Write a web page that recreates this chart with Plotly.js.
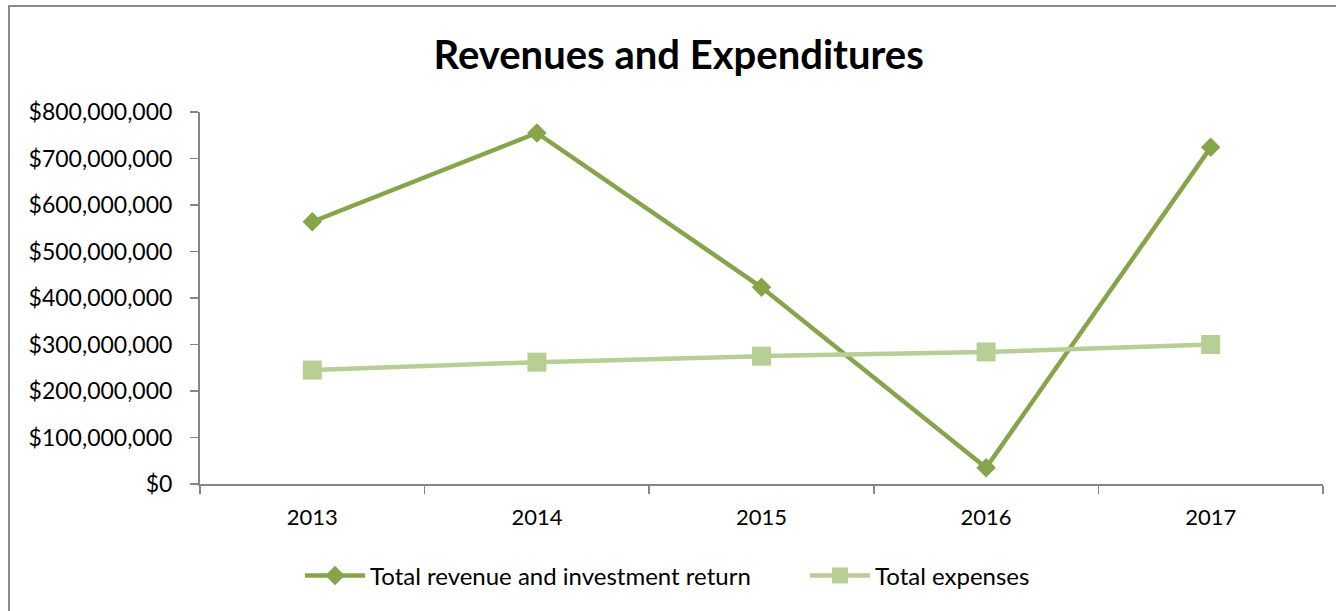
<!DOCTYPE html>
<html>
<head>
<meta charset="utf-8">
<script src="https://cdn.plot.ly/plotly-3.0.1.min.js"></script>
<style>html,body{margin:0;padding:0;background:#fff;}#chart{width:1336px;height:611px;}</style>
</head>
<body>
<div id="chart"></div>
<script>
const years = ["2013", "2014", "2015", "2016", "2017"];
const revenue = [564000000, 755000000, 423000000, 35000000, 724000000];
const expenses = [245000000, 262000000, 275000000, 284000000, 300000000];
const yTicks = [0, 100000000, 200000000, 300000000, 400000000, 500000000, 600000000, 700000000, 800000000];
const yTickText = yTicks.map(v => "$" + v.toLocaleString("en-US"));

const W = 1336, H = 611;
const m = {l: 200, r: 13, t: 112, b: 127};
const pw = W - m.l - m.r, ph = H - m.t - m.b;
const px = v => (v - m.l) / pw;
const py = v => (H - m.b - v) / ph;

const font = "Lato, 'Open Sans', sans-serif";

const traces = [
  {
    x: years, y: revenue, name: "Total revenue and investment return",
    type: "scatter", mode: "lines+markers",
    line: {color: "#86A44A", width: 4.5},
    marker: {symbol: "diamond", size: 15, color: "#86A44A"}
  },
  {
    x: years, y: expenses, name: "Total expenses",
    type: "scatter", mode: "lines+markers",
    line: {color: "#B7CE95", width: 4.5},
    marker: {symbol: "square", size: 19, color: "#B7CE95"}
  }
];

const layout = {
  width: W, height: H,
  margin: m,
  paper_bgcolor: "#fff", plot_bgcolor: "#fff",
  font: {family: font, color: "#000", size: 22},
  title: {text: "<b>Revenues and Expenditures</b>", x: 0.508, xanchor: "center", y: 0.91, yanchor: "middle",
          font: {family: font, size: 40, color: "#000"}},
  showlegend: true,
  legend: {orientation: "h", x: px(300), xanchor: "left", y: py(576), yanchor: "middle",
           bgcolor: "rgba(0,0,0,0)",
           font: {family: font, size: 24, color: "#000"}, itemwidth: 60, traceorder: "normal",
           entrywidth: 430},
  xaxis: {
    type: "category", range: [-0.5, 4.5], tickson: "boundaries",
    showline: true, linecolor: "#868686", linewidth: 2,
    ticks: "outside", ticklen: 8, tickcolor: "#868686", tickwidth: 1.5,
    showgrid: false, zeroline: false, ticklabelstandoff: 13,
    tickfont: {family: font, size: 22, color: "#000"}
  },
  yaxis: {
    range: [0, 800000000], tickmode: "array", tickvals: yTicks, ticktext: yTickText,
    showline: true, linecolor: "#868686", linewidth: 2,
    ticks: "outside", ticklen: 8, tickcolor: "#868686", tickwidth: 1.5,
    showgrid: false, zeroline: false, ticklabelstandoff: 13,
    tickfont: {family: font, size: 23, color: "#000"}
  },
  shapes: [
    {type: "rect", xref: "paper", yref: "paper", x0: px(9), x1: px(1345), y0: py(620), y1: py(6),
     line: {color: "#8a8a8a", width: 2}, fillcolor: "rgba(0,0,0,0)", layer: "above"}
  ]
};

Plotly.newPlot("chart", traces, layout, {displayModeBar: false, staticPlot: true});
</script>
</body>
</html>
